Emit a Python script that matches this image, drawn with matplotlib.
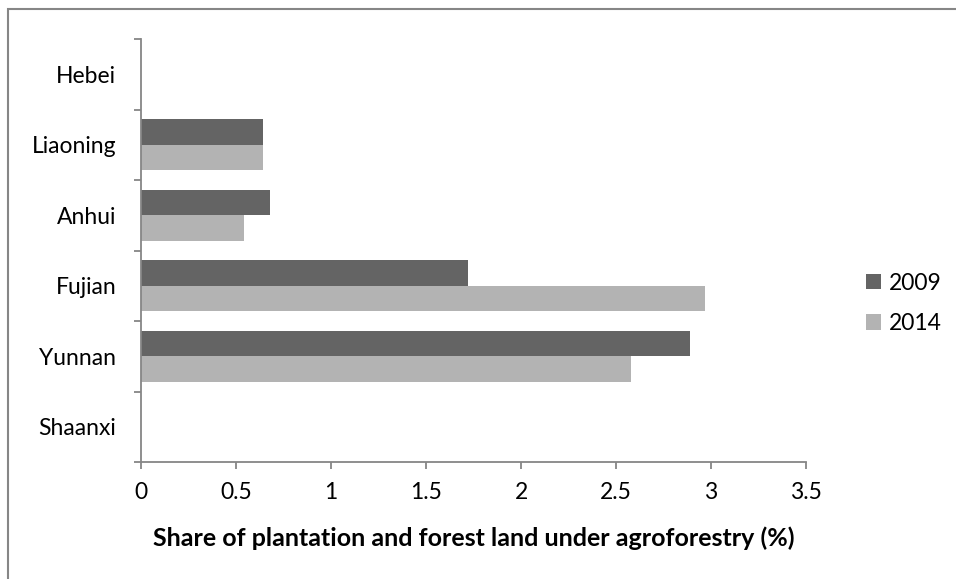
import numpy as np
import matplotlib
matplotlib.use("Agg")
import matplotlib.pyplot as plt
from matplotlib.patches import Rectangle
from matplotlib.ticker import FuncFormatter

plt.rcParams['font.family'] = ['Lato', 'DejaVu Sans']

provinces = ['Hebei', 'Liaoning', 'Anhui', 'Fujian', 'Yunnan', 'Shaanxi']
share_2009 = [0.0, 0.64, 0.68, 1.72, 2.89, 0.0]
share_2014 = [0.0, 0.64, 0.54, 2.97, 2.58, 0.0]

dark = '#646464'
light = '#b3b3b3'
axis_grey = '#868686'
fs = 16.5

fig = plt.figure(figsize=(9.56, 5.79), dpi=100)
ax = fig.add_axes([141.3 / 956, 1 - 462 / 579, (806 - 141.3) / 956, (462 - 39) / 579])

y = np.arange(len(provinces))
h = 1 / 2.75  # Excel-style gap width of 75%
ax.barh(y - h / 2, share_2009, height=h, color=dark, label='2009')
ax.barh(y + h / 2, share_2014, height=h, color=light, label='2014')

ax.set_xlim(0, 3.5)
ax.set_ylim(len(provinces) - 0.5, -0.5)

ax.set_xticks(np.arange(0, 3.51, 0.5))
ax.xaxis.set_major_formatter(FuncFormatter(lambda v, p: f'{v:g}'))

# category boundaries get the tick marks, names sit in between
ax.set_yticks(np.arange(-0.5, len(provinces), 1.0))
ax.set_yticklabels([])
ax.set_yticks(y, minor=True)
ax.set_yticklabels(provinces, minor=True)
ax.tick_params(axis='y', which='minor', length=0, pad=18, labelsize=fs)
ax.tick_params(axis='y', which='major', length=5.2, width=1.3, color=axis_grey)
ax.tick_params(axis='x', length=5.2, width=1.3, color=axis_grey, labelsize=fs, pad=9)

for side in ['top', 'right']:
    ax.spines[side].set_visible(False)
for side in ['left', 'bottom']:
    ax.spines[side].set_color(axis_grey)
    ax.spines[side].set_linewidth(1.3)

ax.set_xlabel('Share of plantation and forest land under agroforestry (%)',
              fontsize=18, fontweight='bold', labelpad=17)

ax.legend(loc='center left', bbox_to_anchor=(1.09, 0.375), frameon=False,
          fontsize=fs, handlelength=0.65, handleheight=0.65, handletextpad=0.35,
          labelspacing=0.85, borderpad=0, borderaxespad=0)

# chart area frame
fig.add_artist(Rectangle((8 / 956, -0.1), 1.2, 1 - 9 / 579 + 0.1, fill=False,
                         edgecolor=axis_grey, linewidth=1.5,
                         transform=fig.transFigure))

fig.savefig('out.png', dpi=100)
